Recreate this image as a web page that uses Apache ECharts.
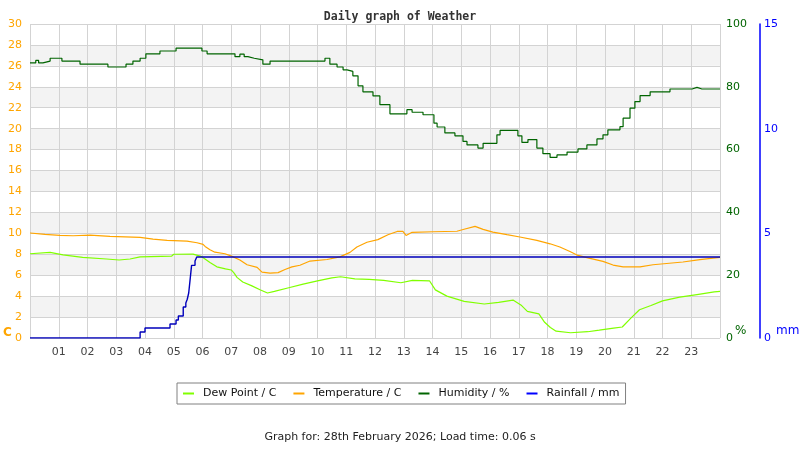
<!DOCTYPE html>
<html>
<head>
<meta charset="utf-8">
<title>Daily graph of Weather</title>
<script src="https://cdn.jsdelivr.net/npm/echarts@6/dist/echarts.min.js"></script>
<style>
  html, body { margin: 0; padding: 0; background: #fff; }
  #chart { width: 800px; height: 450px; }
</style>
</head>
<body>
<div id="chart"></div>
<script>
// 时间单位：小时（0 - 24）
const hourLabels = ['01','02','03','04','05','06','07','08','09','10','11','12',
  '13','14','15','16','17','18','19','20','21','22','23'];

// 湿度 %
const humTime = [0, 0.2, 0.3, 0.45, 0.7, 1.11, 1.74, 2.71, 3.34, 3.58, 3.83, 4.03, 4.52, 5.08,
  5.98, 6.16, 7.13, 7.3, 7.45, 7.58, 7.8, 8.1, 8.35, 10.26, 10.43, 10.68, 10.89, 11.03, 11.23,
  11.41, 11.58, 11.93, 12.17, 12.52, 13.11, 13.29, 13.67, 14.05, 14.16, 14.43, 14.78, 15.06,
  15.2, 15.58, 15.76, 16.24, 16.35, 16.97, 17.11, 17.32, 17.63, 17.84, 18.09, 18.33, 18.68,
  19.06, 19.37, 19.72, 19.93, 20.1, 20.52, 20.63, 20.87, 21.04, 21.22, 21.57, 22.26, 23.03,
  23.2, 23.37, 24];
const humVal = [87.6, 88.4, 87.6, 88.2, 89.1, 88.2, 87.2, 86.3, 87.2, 88.2, 89.1, 90.5, 91.4, 92.3,
  91.4, 90.5, 89.6, 90.4, 89.6, 89.1, 88.6, 87.2, 88.2, 89.1, 87.2, 86.3, 85.4, 84.9, 83.5,
  80.3, 78.4, 77.1, 74.3, 71.4, 72.7, 71.9, 71.1, 68.4, 67.2, 65.3, 64.4, 62.6,
  61.5, 60.5, 62.0, 64.7, 66.1, 64.4, 62.3, 63.2, 60.5, 58.7, 57.5, 58.3, 59.2,
  60.2, 61.5, 63.4, 64.7, 66.3, 67.3, 70.0, 73.2, 75.3, 77.2, 78.4, 79.3, 79.8,
  79.3, 79.3, 79.3];

// 温度 C
const tempTime = [0, 0.52, 1.04, 1.5, 2.09, 2.78, 3.83, 4.28, 4.77, 5.46, 5.81, 6.02, 6.09, 6.26,
  6.43, 6.78, 7.03, 7.3, 7.55, 7.9, 8.07, 8.35, 8.63, 8.87, 9.11, 9.39, 9.74, 10.33, 10.78,
  11.13, 11.37, 11.72, 12.1, 12.45, 12.77, 12.97, 13.08, 13.29, 14.02, 14.85, 15.13, 15.48,
  15.76, 16.1, 16.59, 17.04, 17.63, 18.09, 18.43, 18.78, 19.06, 19.48, 19.93, 20.28, 20.63,
  21.22, 21.67, 22.71, 23.3, 23.76, 24];
const tempVal = [10.03, 9.9, 9.8, 9.77, 9.82, 9.7, 9.62, 9.45, 9.33, 9.25, 9.1, 8.95, 8.75, 8.43,
  8.2, 8.05, 7.8, 7.45, 7.0, 6.75, 6.3, 6.2, 6.25, 6.55, 6.8, 6.95, 7.35, 7.5, 7.75,
  8.18, 8.7, 9.15, 9.4, 9.87, 10.18, 10.18, 9.8, 10.1, 10.15, 10.2, 10.41, 10.66,
  10.38, 10.12, 9.87, 9.65, 9.32, 9.0, 8.69, 8.27, 7.89, 7.6, 7.32, 6.97, 6.8,
  6.8, 7.0, 7.26, 7.48, 7.64, 7.7];

// 露点 C
const dewTime = [0, 0.7, 1.15, 1.83, 2.66, 3.1, 3.48, 3.83, 4.93, 5.0, 5.67, 5.95, 6.26, 6.5,
  6.8, 7.0, 7.1, 7.2, 7.4, 7.7, 8.0, 8.26, 8.5, 9.0, 9.5, 10.0, 10.5, 10.8, 11.3, 11.8,
  12.3, 12.9, 13.3, 13.9, 14.1, 14.5, 15.1, 15.8, 16.3, 16.8, 17.1, 17.3, 17.7, 17.9,
  18.1, 18.3, 18.8, 19.4, 19.8, 20.3, 20.6, 20.9, 21.2, 21.6, 22.0, 22.6, 23.2, 23.8, 24];
const dewVal = [8.05, 8.18, 7.95, 7.7, 7.55, 7.45, 7.55, 7.75, 7.83, 8.0, 8.02, 7.8, 7.22, 6.8,
  6.6, 6.5, 6.2, 5.79, 5.35, 5.0, 4.61, 4.3, 4.45, 4.8, 5.15, 5.45, 5.75, 5.85, 5.65, 5.6,
  5.5, 5.28, 5.5, 5.45, 4.6, 4.0, 3.5, 3.25, 3.4, 3.62, 3.1, 2.55, 2.3, 1.5,
  1.0, 0.65, 0.5, 0.6, 0.75, 0.95, 1.05, 1.9, 2.7, 3.1, 3.55, 3.9, 4.15, 4.4, 4.45];

// 降雨 mm（累计）
const rainTime = [0, 3.83, 4.0, 4.87, 5.08, 5.16, 5.33, 5.42, 5.47, 5.52, 5.57, 5.62, 5.74, 5.8, 24];
const rainVal = [0, 0.29, 0.48, 0.67, 0.86, 1.05, 1.48, 1.67, 1.85, 2.15, 2.8, 3.47, 3.68, 3.87, 3.87];

const pairs = (t, v) => t.map((x, i) => [x, v[i]]);

const FONT = 'DejaVu Sans';
const chart = echarts.init(document.getElementById('chart'));

chart.setOption({
  animation: false,
  title: {
    text: 'Daily graph of Weather',
    left: 'center',
    top: 6,
    textStyle: { fontFamily: 'DejaVu Sans Mono', fontWeight: 'bold', fontSize: 11.5, color: '#333' }
  },
  legend: {
    left: 177,
    top: 383,
    width: 460,
    padding: [5, 6, 5, 6],
    itemGap: 17,
    itemWidth: 11,
    itemHeight: 2,
    borderColor: '#808080',
    borderWidth: 1,
    icon: 'rect',
    textStyle: { fontFamily: FONT, fontSize: 11, color: '#111', padding: [0, 0, 0, 4] },
    data: ['Dew Point / C', 'Temperature / C', 'Humidity / %', 'Rainfall / mm']
  },
  graphic: [
    { type: 'text', left: 3, top: 327, style: { text: 'C', fill: '#FFA500', font: 'bold 12px DejaVu Sans' } },
    { type: 'text', left: 735, top: 325, style: { text: '%', fill: '#006400', font: '12px DejaVu Sans' } },
    { type: 'text', left: 776, top: 325, style: { text: 'mm', fill: '#0000FF', font: '12px DejaVu Sans' } },
    { type: 'text', left: 'center', top: 432, style: { text: 'Graph for: 28th February 2026; Load time: 0.06 s', fill: '#222', font: '11px DejaVu Sans' } }
  ],
  grid: { left: 30, right: 80, top: 24, bottom: 112 },
  xAxis: {
    type: 'value',
    min: 0,
    max: 24,
    interval: 1,
    axisLine: { show: false },
    axisTick: { show: false },
    splitLine: { lineStyle: { color: '#d3d3d3', width: 1 } },
    axisLabel: {
      fontFamily: FONT, fontSize: 11, color: '#444', margin: 9,
      formatter: v => (v >= 1 && v <= 23) ? hourLabels[v - 1] : ''
    }
  },
  yAxis: [
    {
      type: 'value', min: 0, max: 30, interval: 2, position: 'left',
      axisLine: { show: false }, axisTick: { show: false },
      splitLine: { lineStyle: { color: '#d3d3d3' } },
      splitArea: { show: true, areaStyle: { color: ['#ffffff', '#f3f3f3'] } },
      axisLabel: { fontFamily: FONT, fontSize: 11, color: '#FFA500', margin: 8 }
    },
    {
      type: 'value', min: 0, max: 100, interval: 20, position: 'right',
      axisLine: { show: false }, axisTick: { show: false }, splitLine: { show: false },
      axisLabel: { fontFamily: FONT, fontSize: 11, color: '#006400', margin: 6 }
    },
    {
      type: 'value', min: 0, max: 15, interval: 5, position: 'right', offset: 40,
      axisLine: { show: true, lineStyle: { color: '#0000FF', width: 1.5 } },
      axisTick: { show: false }, splitLine: { show: false },
      axisLabel: { fontFamily: FONT, fontSize: 11, color: '#0000FF', margin: 4 }
    }
  ],
  series: [
    {
      name: 'Dew Point / C', type: 'line', yAxisIndex: 0, showSymbol: false,
      data: pairs(dewTime, dewVal),
      lineStyle: { color: '#80FF00', width: 1.2 }, itemStyle: { color: '#80FF00' }
    },
    {
      name: 'Temperature / C', type: 'line', yAxisIndex: 0, showSymbol: false,
      data: pairs(tempTime, tempVal),
      lineStyle: { color: '#FFA500', width: 1.2 }, itemStyle: { color: '#FFA500' }
    },
    {
      name: 'Humidity / %', type: 'line', yAxisIndex: 1, showSymbol: false, step: 'end',
      data: pairs(humTime, humVal),
      lineStyle: { color: '#006400', width: 1.2 }, itemStyle: { color: '#006400' }
    },
    {
      name: 'Rainfall / mm', type: 'line', yAxisIndex: 2, showSymbol: false, step: 'end',
      data: pairs(rainTime, rainVal),
      lineStyle: { color: '#0000BB', width: 1.4 }, itemStyle: { color: '#0000FF' }
    }
  ]
});
</script>
</body>
</html>
